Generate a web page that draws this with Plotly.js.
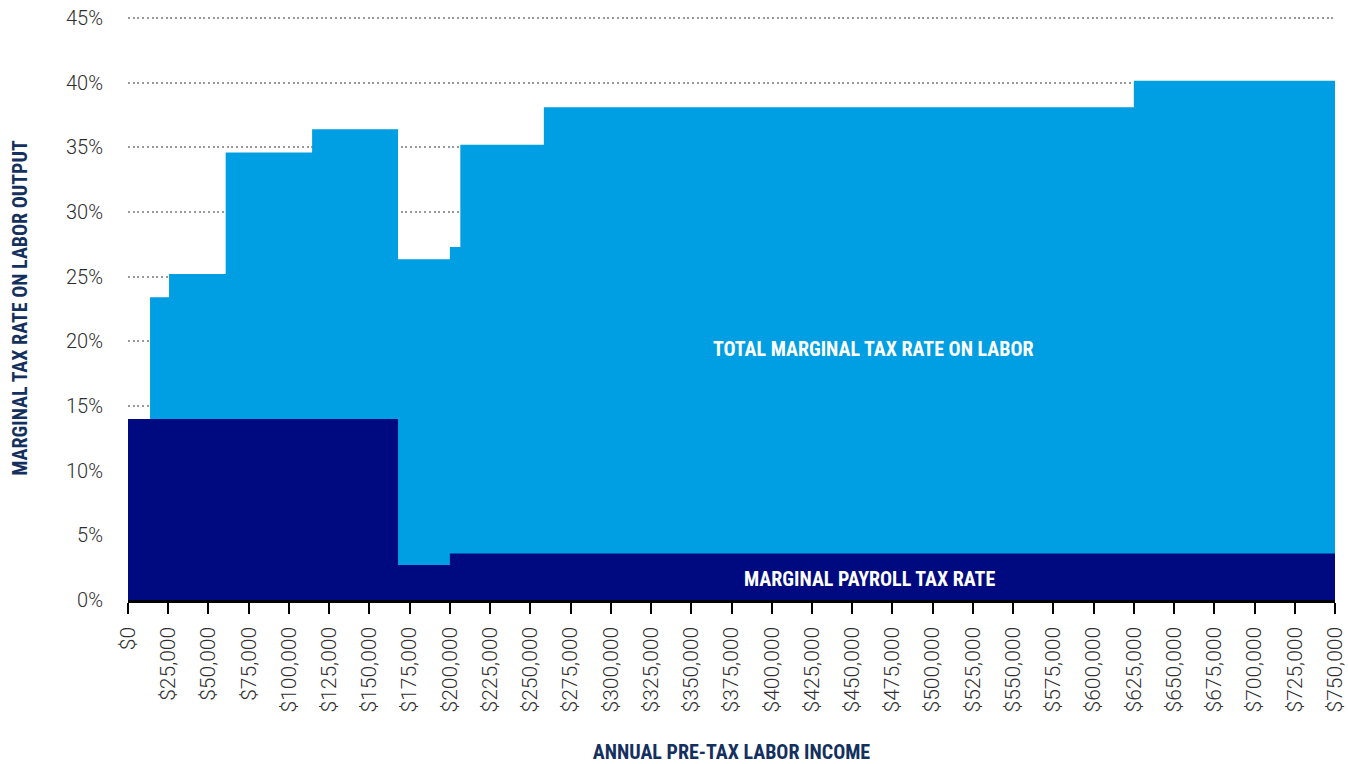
<!DOCTYPE html>
<html>
<head>
<meta charset="utf-8">
<script src="https://cdn.plot.ly/plotly-3.0.1.min.js"></script>
<style>
  html, body { margin: 0; padding: 0; background: #ffffff; }
  #chart { width: 1348px; height: 764px; }
</style>
</head>
<body>
<div id="chart"></div>
<script>
// Income thresholds (USD) where the total marginal rate changes, and the rate (%) from each threshold on
const totalIncome = [0, 13700, 25500, 60700, 114400, 167800, 200000, 206500, 258400, 625000, 750000];
const totalRate   = [14.0, 23.4, 25.2, 34.6, 36.4, 26.35, 27.3, 35.2, 38.1, 40.15, 40.15];

// Payroll-tax portion of the marginal rate
const payrollIncome = [0, 167800, 200000, 750000];
const payrollRate   = [14.0, 2.7, 3.6, 3.6];

// Axis ticks
const incomeTicks = [0, 25000, 50000, 75000, 100000, 125000, 150000, 175000, 200000, 225000,
  250000, 275000, 300000, 325000, 350000, 375000, 400000, 425000, 450000, 475000, 500000,
  525000, 550000, 575000, 600000, 625000, 650000, 675000, 700000, 725000, 750000];
const rateTicks  = [0, 5, 10, 15, 20, 25, 30, 35, 40, 45];
const rateLabels = ['0%', '5%', '10%', '15%', '20%', '25%', '30%', '35%', '40%', '45%'];

const LIGHT = '#009fe3';
const DARK = '#000a80';
const NAVY = '#14305e';
const CONDENSED = '"Roboto Condensed", "DejaVu Sans", sans-serif';

function heading(size, color) {
  return { family: CONDENSED, size: size, color: color, weight: 'bold', stretch: 'condensed' };
}
const tickFont = { size: 20, color: '#2e2e2e', family: 'Roboto, sans-serif', weight: 300 };

const traces = [
  {
    x: totalIncome, y: totalRate,
    type: 'scatter', mode: 'lines',
    line: { shape: 'hv', width: 0, color: LIGHT },
    fill: 'tozeroy', fillcolor: LIGHT,
    hoverinfo: 'skip', showlegend: false
  },
  {
    x: payrollIncome, y: payrollRate,
    type: 'scatter', mode: 'lines',
    line: { shape: 'hv', width: 0, color: DARK },
    fill: 'tozeroy', fillcolor: DARK,
    hoverinfo: 'skip', showlegend: false
  }
];

const layout = {
  width: 1348, height: 764,
  margin: { l: 128, r: 13, t: 16, b: 164 },
  paper_bgcolor: '#ffffff', plot_bgcolor: '#ffffff',
  font: { family: 'Roboto, sans-serif', color: '#444444' },
  xaxis: {
    range: [0, 750000],
    tickvals: incomeTicks,
    tickformat: '$,.0f',
    tickangle: -90,
    tickfont: Object.assign({}, tickFont, { size: 21 }),
    ticks: 'outside', ticklen: 11, tickwidth: 2, tickcolor: '#000000',
    ticklabelstandoff: 5,
    showline: true, linecolor: '#000000', linewidth: 2.5,
    showgrid: false, zeroline: false,
    title: {
      text: 'ANNUAL PRE-TAX LABOR INCOME',
      font: heading(20, NAVY),
      standoff: 36
    }
  },
  yaxis: {
    range: [0, 45.15],
    tickvals: rateTicks,
    ticktext: rateLabels,
    tickfont: tickFont,
    ticks: '', ticklabelstandoff: 24,
    showline: false, zeroline: false,
    showgrid: true, gridcolor: '#999999', gridwidth: 2, griddash: '2px,2.7px',
    title: {
      text: 'MARGINAL TAX RATE ON LABOR OUTPUT',
      font: heading(20, NAVY),
      standoff: 33
    }
  },
  annotations: [
    {
      x: 463000, y: 19.4, xref: 'x', yref: 'y',
      text: 'TOTAL MARGINAL TAX RATE ON LABOR', showarrow: false,
      font: heading(20, '#ffffff')
    },
    {
      x: 460600, y: 1.62, xref: 'x', yref: 'y',
      text: 'MARGINAL PAYROLL TAX RATE', showarrow: false,
      font: heading(20, '#ffffff')
    }
  ]
};

Plotly.newPlot('chart', traces, layout, { displayModeBar: false, staticPlot: true });
</script>
</body>
</html>
